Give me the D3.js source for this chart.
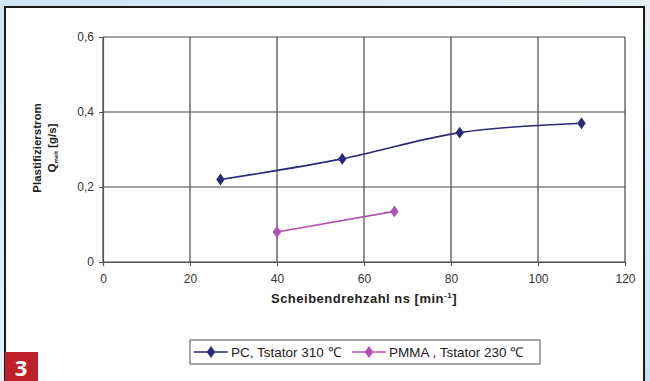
<!DOCTYPE html>
<html><head><meta charset="utf-8">
<script src="https://cdn.jsdelivr.net/npm/d3@7/dist/d3.min.js"></script>
<style>
html,body{margin:0;padding:0;background:#fff;}
svg{display:block;font-family:"Liberation Sans",Arial,sans-serif;}
</style></head>
<body>
<svg id="chart" width="650" height="381"></svg>
<script>
const xTicks = [0, 20, 40, 60, 80, 100, 120];
const yTicks = [0, 0.2, 0.4, 0.6];
const pcX = [27, 55, 82, 110];
const pcY = [0.22, 0.275, 0.345, 0.37];
const pmmaX = [40, 67];
const pmmaY = [0.08, 0.135];
const seriesNames = ["PC, Tstator 310 \u2103", "PMMA , Tstator 230 \u2103"];
const seriesColors = ["#2b2a78", "#b050b0"];

const svg = d3.select("#chart");
const defs = svg.append("defs");
const grad = defs.append("linearGradient").attr("id","bg").attr("x1",0).attr("y1",0).attr("x2",1).attr("y2",1);
grad.append("stop").attr("offset","0%").attr("stop-color","#cfe6f5");
grad.append("stop").attr("offset","50%").attr("stop-color","#e4f1fa");
grad.append("stop").attr("offset","100%").attr("stop-color","#c9e2f3");
svg.append("rect").attr("width",650).attr("height",381).attr("fill","url(#bg)");
svg.append("rect").attr("x",5).attr("y",7).attr("width",639).attr("height",380)
  .attr("fill","#fff").attr("stroke","#1a1a1a").attr("stroke-width",2);

const x = d3.scaleLinear().domain([0,120]).range([103,625]);
const y = d3.scaleLinear().domain([0,0.6]).range([262,37]);
const fmt = d => d3.format(".1f")(d).replace(".", ",");

// grid
const g = svg.append("g");
g.selectAll(".vg").data(xTicks).enter().append("line")
  .attr("x1",d=>x(d)).attr("x2",d=>x(d)).attr("y1",y(0.6)).attr("y2",y(0))
  .attr("stroke","#4a4444").attr("stroke-width",1.2);
g.selectAll(".hg").data(yTicks).enter().append("line")
  .attr("x1",x(0)).attr("x2",x(120)).attr("y1",d=>y(d)).attr("y2",d=>y(d))
  .attr("stroke","#4a4444").attr("stroke-width",1.2);

// axes
const xAxis = d3.axisBottom(x).tickValues(xTicks).tickSize(4).tickPadding(8).tickFormat(d=>d);
const yAxis = d3.axisLeft(y).tickValues(yTicks).tickSize(4).tickPadding(5).tickFormat(d=> d===0?"0":fmt(d));
const gx = svg.append("g").attr("transform",`translate(0,${y(0)})`).call(xAxis);
const gy = svg.append("g").attr("transform",`translate(${x(0)},0)`).call(yAxis);
[gx,gy].forEach(a=>{
  a.select(".domain").attr("stroke","#555").attr("stroke-width",1.2);
  a.selectAll(".tick line").attr("stroke","#555");
  a.selectAll("text").attr("fill","#333").style("font-size","12px").style("font-family","'Liberation Sans',Arial,sans-serif");
});

// lines
const pcData = pcX.map((v,i)=>[v,pcY[i]]);
const pmmaData = pmmaX.map((v,i)=>[v,pmmaY[i]]);
const line = d3.line().x(d=>x(d[0])).y(d=>y(d[1])).curve(d3.curveCatmullRom.alpha(0.5));
const lineStraight = d3.line().x(d=>x(d[0])).y(d=>y(d[1]));
svg.append("path").datum(pcData).attr("d",line).attr("fill","none").attr("stroke",seriesColors[0]).attr("stroke-width",1.6);
svg.append("path").datum(pmmaData).attr("d",lineStraight).attr("fill","none").attr("stroke",seriesColors[1]).attr("stroke-width",1.6);
const diamond = d3.symbol().type(d3.symbolDiamond).size(40);
svg.selectAll(".pcm").data(pcData).enter().append("path")
  .attr("d",diamond).attr("transform",d=>`translate(${x(d[0])},${y(d[1])}) scale(1.25,1)`).attr("fill",seriesColors[0]);
svg.selectAll(".pmm").data(pmmaData).enter().append("path")
  .attr("d",diamond).attr("transform",d=>`translate(${x(d[0])},${y(d[1])}) scale(1.25,1)`).attr("fill",seriesColors[1]);

// axis titles
svg.append("text").attr("x",364).attr("y",303).attr("text-anchor","middle")
  .attr("font-size","13px").attr("font-weight","bold").attr("fill","#222").attr("letter-spacing","0.5")
  .html('Scheibendrehzahl ns [min<tspan dy="-5" font-size="8px">-1</tspan><tspan dy="5">]</tspan>');
const yt = svg.append("g").attr("transform","translate(41,148) rotate(-90)");
yt.append("text").attr("text-anchor","middle").attr("font-size","11.5px").attr("font-weight","bold").attr("fill","#222").text("Plastifizierstrom");
yt.append("text").attr("y",15).attr("text-anchor","middle").attr("font-size","11.5px").attr("font-weight","bold").attr("fill","#222")
  .html('Q<tspan dy="2" font-size="6px">melt</tspan><tspan dy="-2"> [g/s]</tspan>');

// legend
const lg = svg.append("g");
lg.append("rect").attr("x",190).attr("y",340).attr("width",350).attr("height",24).attr("fill","#fff").attr("stroke","#555").attr("stroke-width",1);
const items = [{x:194, name:seriesNames[0], c:seriesColors[0]},{x:352, name:seriesNames[1], c:seriesColors[1]}];
items.forEach(it=>{
  lg.append("line").attr("x1",it.x).attr("x2",it.x+34).attr("y1",352).attr("y2",352).attr("stroke",it.c).attr("stroke-width",1.6);
  lg.append("path").attr("d",diamond).attr("transform",`translate(${it.x+17},352) scale(1.25,1)`).attr("fill",it.c);
  lg.append("text").attr("x",it.x+37).attr("y",357).attr("font-size","13.5px").attr("fill","#222").text(it.name);
});

// figure number
svg.append("rect").attr("x",5).attr("y",352).attr("width",33).attr("height",29).attr("fill","#c0202a");
svg.append("text").attr("x",21).attr("y",376).attr("text-anchor","middle").attr("font-size","22px").attr("font-weight","bold")
  .attr("fill","#fff").style("font-family","'Open Sans',sans-serif").text("3");
</script>
</body></html>
